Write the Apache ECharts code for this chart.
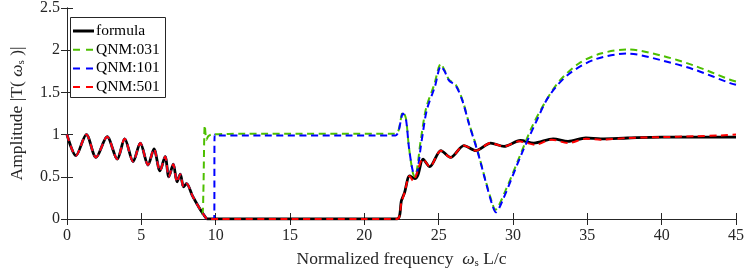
<!DOCTYPE html>
<html>
<head>
<meta charset="utf-8">
<script src="https://cdn.jsdelivr.net/npm/echarts@6/dist/echarts.min.js"></script>
<style>html,body{margin:0;padding:0;background:#fff}#c{width:747px;height:275px}</style>
</head>
<body>
<div id="c"></div>
<script>
// ---- data ----
const seriesNames = ['formula', 'QNM:031', 'QNM:101', 'QNM:501'];
const seriesColors = ['#000000', '#4dbf00', '#0000ff', '#ff0000'];
const xTicks = [0, 5, 10, 15, 20, 25, 30, 35, 40, 45];
const yTicks = [0, 0.5, 1, 1.5, 2, 2.5];

// low-frequency part where all curves coincide (0 .. 8.9)
const lowX = [0, 0.6, 1.3, 1.95, 2.7, 3.38, 3.88, 4.45, 4.93, 5.45, 5.85, 6.25, 6.6, 6.85, 7.15, 7.4, 7.62, 7.84, 8.04, 8.45, 8.9];
const lowY = [1.0, 0.75, 1.0, 0.73, 0.975, 0.71, 0.95, 0.68, 0.9, 0.64, 0.83, 0.57, 0.74, 0.5, 0.65, 0.44, 0.53, 0.38, 0.42, 0.27, 0.13];

const formulaX = [9.2, 9.45, 10, 15, 20, 22.2, 22.5, 22.7, 23.05, 23.4, 23.6, 23.95, 24.4, 25.15, 25.8, 26.7, 27.5, 28.5, 29.4, 30.5, 31.4, 32.7, 33.7, 34.9, 35.9, 37.7, 40, 42.2, 45];
const formulaY = [0.05, 0, 0, 0, 0, 0, 0.22, 0.31, 0.51, 0.48, 0.52, 0.71, 0.62, 0.81, 0.73, 0.87, 0.81, 0.9, 0.86, 0.93, 0.9, 0.95, 0.92, 0.96, 0.95, 0.96, 0.97, 0.97, 0.97];

const q031X = [9.1, 9.17, 9.27, 9.38, 9.5, 9.7, 12, 22.1, 22.3, 22.6, 22.8, 23.0, 23.27, 23.4, 23.8, 24.15, 24.7, 25.15, 25.4, 25.7, 26.15, 26.6, 27.05, 27.6, 28.15, 28.6, 28.8, 29.5, 30.4, 31.3, 32.15, 33.05, 34.4, 35.9, 37.7, 39.9, 42.15, 44.6, 45];
const q031Y = [0.06, 0.3, 1.11, 0.94, 0.98, 1.0, 1.01, 1.01, 1.05, 1.27, 1.19, 0.85, 0.54, 0.5, 0.94, 1.31, 1.59, 1.84, 1.76, 1.65, 1.59, 1.41, 1.13, 0.82, 0.46, 0.19, 0.11, 0.34, 0.72, 1.1, 1.38, 1.62, 1.84, 1.96, 2.01, 1.94, 1.82, 1.65, 1.63];

const q101X = [9.2, 9.45, 9.9, 9.93, 10.0, 22.1, 22.3, 22.6, 22.8, 23.0, 23.27, 23.45, 23.85, 24.2, 24.75, 25.15, 25.4, 25.7, 26.15, 26.6, 27.05, 27.6, 28.15, 28.6, 28.85, 29.3, 30.6, 31.5, 32.4, 33.7, 35.5, 37.7, 40, 42.2, 44.6, 45];
const q101Y = [0.05, 0, 0, 1.0, 0.99, 0.99, 1.04, 1.25, 1.18, 0.85, 0.56, 0.52, 0.92, 1.29, 1.57, 1.81, 1.75, 1.64, 1.58, 1.4, 1.12, 0.81, 0.45, 0.17, 0.08, 0.22, 0.78, 1.13, 1.45, 1.71, 1.89, 1.96, 1.88, 1.77, 1.61, 1.59];

const q501X = [9.2, 9.45, 10, 15, 20, 22.2, 22.5, 22.7, 23.05, 23.3, 23.45, 23.95, 24.4, 25.15, 25.8, 26.7, 27.5, 28.5, 29.4, 30.4, 31.5, 32.6, 33.7, 34.9, 35.9, 37.7, 40, 42.2, 44, 45];
const q501Y = [0.05, 0, 0, 0, 0, 0, 0.2, 0.31, 0.51, 0.45, 0.5, 0.71, 0.62, 0.81, 0.73, 0.87, 0.81, 0.9, 0.86, 0.92, 0.88, 0.94, 0.9, 0.95, 0.94, 0.96, 0.97, 0.98, 0.99, 1.0];

function pairs(xs, ys) { return xs.map((x, i) => [x, ys[i]]); }
const lowPairs = pairs(lowX, lowY);

const AX = '#262626';
const FONT = 'Liberation Serif';
const DASH = [7, 4.5];
const chart = echarts.init(document.getElementById('c'), null, { renderer: 'canvas' });

const baseX = {
  type: 'value', min: xTicks[0], max: xTicks[xTicks.length - 1], interval: 5,
  axisLine: { show: true, lineStyle: { color: AX, width: 1 } },
  axisTick: { show: true, inside: true, length: 6, lineStyle: { color: AX } },
  splitLine: { show: false }
};
const baseY = {
  type: 'value', min: yTicks[0], max: yTicks[yTicks.length - 1], interval: 0.5,
  axisLine: { show: true, lineStyle: { color: AX, width: 1 } },
  axisTick: { show: true, inside: true, length: 6, lineStyle: { color: AX } },
  splitLine: { show: false }
};

const subRich = {
  w: { fontFamily: FONT, fontStyle: 'italic', fontSize: 17.5, color: AX },
  s: { fontFamily: FONT, fontSize: 11, color: AX, padding: [9, 0, 0, 0] }
};

// legend drawn as graphic elements (line samples + real text)
const LG = { x: 70, y: 17, w: 95, h: 80, row0: 31, rowStep: 18.7, lx0: 73, lx1: 94, tx: 96 };
const legendEls = [{
  type: 'rect', z: 100, shape: { x: LG.x + 0.5, y: LG.y + 0.5, width: LG.w, height: LG.h },
  style: { fill: '#fff', stroke: AX, lineWidth: 1 }
}];
seriesNames.forEach((nm, i) => {
  const y = LG.row0 + i * LG.rowStep;
  legendEls.push({
    type: 'line', z: 101,
    shape: { x1: LG.lx0, y1: y, x2: LG.lx1, y2: y },
    style: { stroke: seriesColors[i], lineWidth: i === 0 ? 3 : 2, lineDash: i === 0 ? null : [7, 6] }
  });
  legendEls.push({
    type: 'text', z: 101, x: LG.tx, y: y,
    style: { text: nm, fontFamily: FONT, fontSize: 15.5, fill: '#000', verticalAlign: 'middle', align: 'left' }
  });
});

const option = {
  animation: false,
  backgroundColor: '#fff',
  textStyle: { fontFamily: FONT },
  grid: { left: 61, right: 11, top: 8, bottom: 56, containLabel: false },
  xAxis: [
    Object.assign({}, baseX, {
      position: 'bottom',
      axisLabel: { show: true, margin: 9, fontFamily: FONT, fontSize: 16, color: AX },
      name: 'Normalized frequency  {w|ω}{s|s} L/c',
      nameLocation: 'middle', nameGap: 30,
      nameTextStyle: { fontFamily: FONT, fontSize: 17.5, color: AX, rich: subRich }
    }),
    Object.assign({}, baseX, { position: 'top', axisLabel: { show: false } })
  ],
  yAxis: [
    Object.assign({}, baseY, {
      position: 'left',
      axisLabel: { show: true, margin: 7, fontFamily: FONT, fontSize: 16, color: AX },
      name: 'Amplitude |T( {w|ω}{s|s} )|',
      nameLocation: 'middle', nameGap: 40, nameRotate: 90,
      nameTextStyle: { fontFamily: FONT, fontSize: 17.5, color: AX, rich: subRich }
    }),
    Object.assign({}, baseY, { position: 'right', axisLabel: { show: false } })
  ],
  graphic: legendEls,
  series: [
    {
      name: seriesNames[0], type: 'line', symbol: 'none', smooth: 0.3,
      data: lowPairs.concat(pairs(formulaX, formulaY)),
      lineStyle: { color: seriesColors[0], width: 2.8 }
    },
    {
      name: seriesNames[1], type: 'line', symbol: 'none', smooth: 0.3,
      data: lowPairs.concat(pairs(q031X, q031Y)),
      lineStyle: { color: seriesColors[1], width: 2, type: DASH }
    },
    {
      name: seriesNames[2], type: 'line', symbol: 'none', smooth: 0.3,
      data: lowPairs.concat(pairs(q101X, q101Y)),
      lineStyle: { color: seriesColors[2], width: 2, type: DASH }
    },
    {
      name: seriesNames[3], type: 'line', symbol: 'none', smooth: 0.3,
      data: lowPairs.concat(pairs(q501X, q501Y)),
      lineStyle: { color: seriesColors[3], width: 2, type: DASH }
    }
  ]
};
chart.setOption(option);
</script>
</body>
</html>
